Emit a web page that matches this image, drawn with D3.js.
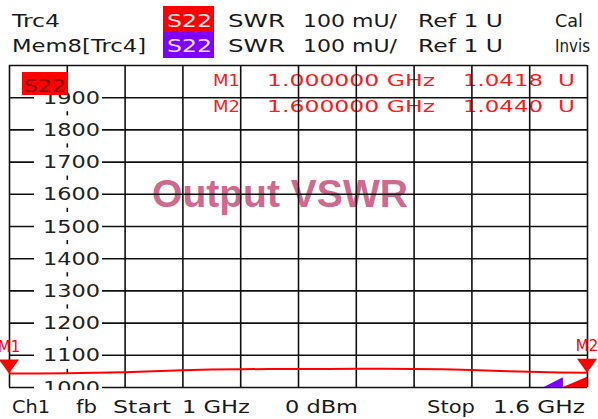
<!DOCTYPE html>
<html><head><meta charset="utf-8">
<script src="https://cdn.jsdelivr.net/npm/d3@7"></script>
<style>html,body{margin:0;padding:0;background:#fff;}svg{display:block;}</style>
</head><body>
<script>
// ---- data ----
const freqs = [1.00,1.03,1.06,1.09,1.12,1.15,1.18,1.21,1.24,1.27,1.30,1.33,1.36,1.39,1.42,1.45,1.48,1.51,1.54,1.57,1.60];
const swr   = [1041.8,1042,1043,1044,1046,1049,1052,1054,1055,1056,1056,1056,1057,1057,1056,1055,1053,1050,1047,1045,1044];
const yTickLabels = [1000,1100,1200,1300,1400,1500,1600,1700,1800,1900];
const markerNames = ["M1","M2"];
const markerFreqs = [1.0,1.6];
const markerValues = [1.0418,1.0440];
const markerFreqText = ["1.000000 GHz","1.600000 GHz"];
const markerValText = ["1.0418","1.0440"];
const headerRow1 = ["Trc4","S22","SWR","100 mU/","Ref 1 U","Cal"];
const headerRow2 = ["Mem8[Trc4]","S22","SWR","100 mU/","Ref 1 U","Invis"];
const footer = ["Ch1","fb","Start","1 GHz","0 dBm","Stop","1.6 GHz"];
const memTriFreqs = [[1.555,1.575],[1.575,1.6]];
const memTriTops = [1030,1032];

const W=598,H=419;
const svg=d3.select("body").append("svg").attr("width",W).attr("height",H)
  .style("font-family","'DejaVu Sans', Verdana, sans-serif");

const x=d3.scaleLinear().domain([1.0,1.6]).range([9,587]);
const y=d3.scaleLinear().domain([1000,2000]).range([387,65]);

function txt(g,xx,yy,s,w,o={}){
  const t=g.append("text").attr("x",xx).attr("y",yy).text(s)
    .attr("font-size",o.size||17).attr("fill",o.fill||"#1a1a1a")
    .attr("font-weight",o.weight||"normal");
  if(o.family) t.attr("font-family",o.family);
  if(w){t.attr("textLength",w).attr("lengthAdjust",o.adj||"spacingAndGlyphs");}
  if(o.anchor) t.attr("text-anchor",o.anchor);
  return t;
}

// header
const hdr=svg.append("g");
const hx=[12,163,228,303,418,555];
const hw1=[48,null,57,94,85,28];
const hw2=[134,null,57,94,85,35];
hdr.append("rect").attr("x",163).attr("y",6).attr("width",51).attr("height",26).attr("fill","#ff0000");
hdr.append("rect").attr("x",163).attr("y",32).attr("width",51).attr("height",26).attr("fill","#8000ff");
headerRow1.forEach((s,i)=>{
  if(i===1) txt(hdr,167,27,s,45,{fill:"#ffe6e6"});
  else txt(hdr,hx[i],27,s,hw1[i]);
});
headerRow2.forEach((s,i)=>{
  if(i===1) txt(hdr,167,52,s,45,{fill:"#efe0ff"});
  else txt(hdr,hx[i],52,s,hw2[i]);
});

// plot
const plot=svg.append("g");
const defs=svg.append("defs");
defs.append("clipPath").attr("id","pc").append("rect").attr("x",0).attr("y",65).attr("width",W).attr("height",325);

// background text (under grid)
txt(plot,152,207,"Output VSWR",256,{size:38,weight:"bold",fill:"#cf6a8e",family:"'Liberation Sans', Arial, sans-serif"});
const mt=plot.append("g");
markerNames.forEach((m,i)=>{
  const yy=86+i*26;
  txt(mt,213,yy,m,27,{size:15,fill:"#ff1a1a"});
  txt(mt,267,yy,markerFreqText[i],168,{size:15,fill:"#ff1a1a"});
  txt(mt,463,yy,markerValText[i],80,{size:15,fill:"#ff1a1a"});
  txt(mt,558,yy,"U",17,{size:15,fill:"#ff1a1a"});
});

// grid
const xg=plot.append("g").attr("transform","translate(0,387)")
  .call(d3.axisBottom(x).tickValues(d3.range(11).map(i=>1+0.06*i)).tickSize(-322).tickFormat(""));
const yg=plot.append("g").attr("transform","translate(9,0)")
  .call(d3.axisLeft(y).tickValues(d3.range(11).map(i=>1000+100*i)).tickSize(-578).tickFormat(""));
[xg,yg].forEach(g=>{g.select(".domain").remove();g.selectAll("line").attr("stroke","#111").attr("stroke-width",1.6);});

// y labels with white backgrounds
const yl=plot.append("g").attr("clip-path","url(#pc)");
yTickLabels.forEach(v=>{
  yl.append("rect").attr("x",34).attr("y",y(v)-14).attr("width",68).attr("height",28).attr("fill","#fff");
  txt(yl,43,y(v)+6.5,String(v),57,{size:17,fill:"#222"});
});

// memory indicator triangles
const triCols=["#8000ff","#ff0000"];
memTriFreqs.forEach((f,i)=>{
  plot.append("path").attr("d",`M${x(f[0])},${y(1000)}L${x(f[1])},${y(1000)}L${x(f[1])},${y(memTriTops[i])}Z`).attr("fill",triCols[i]);
});

// trace
const line=d3.line().x((d,i)=>x(freqs[i])).y(d=>y(d));
plot.append("path").datum(swr).attr("d",line).attr("fill","none").attr("stroke","#ff0000").attr("stroke-width",2);

// markers
markerNames.forEach((m,i)=>{
  const px=x(markerFreqs[i]), py=y(markerValues[i]*1000);
  plot.append("path").attr("d",`M${px-10},${py-14}L${px+10},${py-14}L${px},${py}Z`).attr("fill","#ff0000");
  txt(plot,px,py-22,m,null,{size:15,fill:"#ff0000",anchor:"middle"});
});

// S22 box in plot
plot.append("rect").attr("x",22).attr("y",72).attr("width",46).attr("height",23).attr("fill","#ff0000");
txt(plot,24,92,"S22",42,{size:17,fill:"#8a0000"});

// footer
const fx=[12,76,113,182,285,427,493];
const fw=[38,21,58,68,73,48,92];
footer.forEach((s,i)=>txt(svg,fx[i],413,s,fw[i]));
</script>
</body></html>
